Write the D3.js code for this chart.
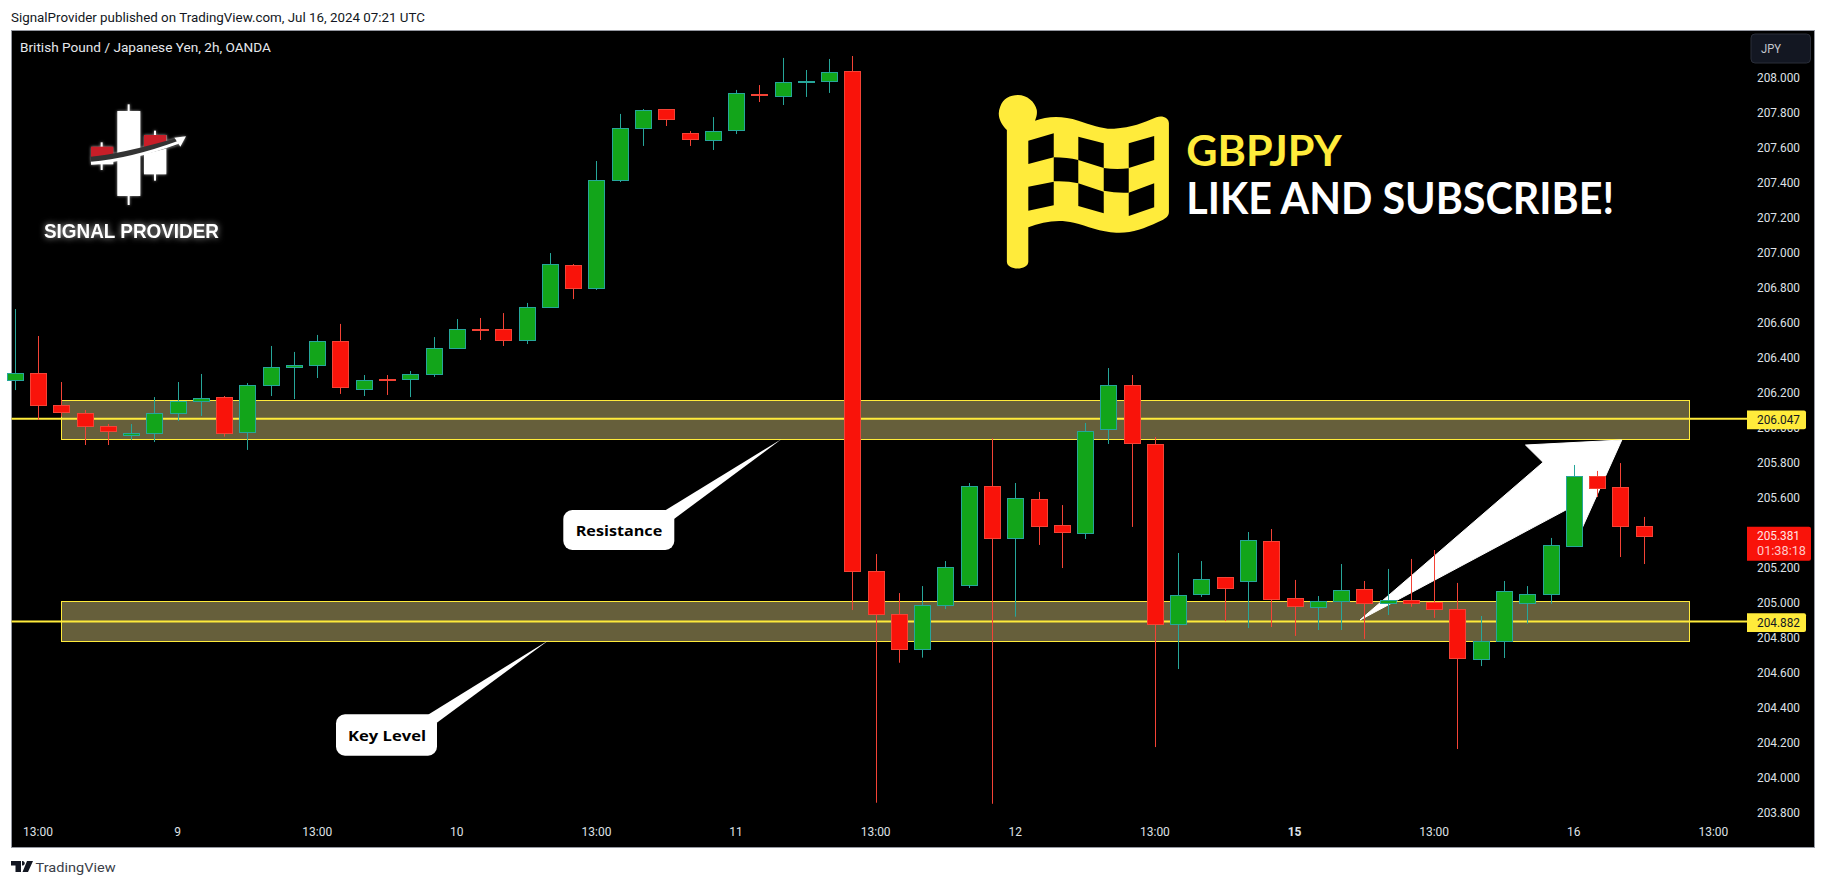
<!DOCTYPE html>
<html><head><meta charset="utf-8">
<script src="https://cdn.jsdelivr.net/npm/d3@7/dist/d3.min.js"></script>
<style>html,body{margin:0;padding:0;background:#fff}svg{display:block}</style>
</head><body><svg id="c" width="1826" height="886"></svg>
<script>
const opens=[206.269,206.311,206.128,206.082,206.008,205.954,205.966,206.08,206.149,206.174,205.972,206.24,206.343,206.354,206.494,206.217,206.273,206.274,206.303,206.452,206.564,206.562,206.497,206.686,206.928,206.794,207.411,207.709,207.819,207.682,207.64,207.697,207.905,207.891,207.975,207.977,208.037,205.179,204.934,204.731,204.983,205.097,205.665,205.366,205.591,205.442,205.394,205.989,206.242,205.905,204.874,205.046,205.145,205.12,205.351,205.025,204.974,205.008,205.077,204.997,205.014,205.002,204.96,204.674,204.779,204.997,205.046,205.32,205.722,205.659,205.437];
const highs=[206.678,206.524,206.261,206.101,206.021,206.021,206.175,206.261,206.307,206.181,206.255,206.467,206.433,206.53,206.593,206.301,206.301,206.324,206.518,206.621,206.627,206.655,206.713,206.998,206.935,207.524,207.793,207.821,207.821,207.695,207.775,207.93,207.958,208.113,208.044,208.107,208.124,205.278,205.055,205.095,205.238,205.684,205.939,205.684,205.633,205.558,206.027,206.341,206.301,205.947,205.284,205.238,205.147,205.404,205.421,205.13,205.038,205.221,205.124,205.193,205.25,205.301,205.113,204.924,205.124,205.095,205.37,205.787,205.753,205.798,205.49];
const lows=[206.215,206.044,206.063,205.901,205.901,205.93,205.918,206.038,206.067,205.949,205.873,206.181,206.164,206.284,206.193,206.181,206.187,206.175,206.29,206.452,206.501,206.467,206.478,206.686,206.735,206.787,207.404,207.61,207.724,207.61,207.587,207.678,207.861,207.844,207.89,207.913,204.958,203.857,204.657,204.686,204.964,205.084,203.851,204.92,205.33,205.198,205.364,205.907,205.433,204.175,204.621,205.033,204.895,204.855,204.861,204.81,204.844,204.844,204.793,204.93,204.977,204.913,204.164,204.638,204.684,204.88,204.994,205.32,205.604,205.261,205.221];
const closes=[206.311,206.126,206.086,206.006,205.977,205.968,206.082,206.151,206.168,205.966,206.242,206.345,206.356,206.494,206.229,206.271,206.269,206.305,206.454,206.562,206.56,206.497,206.688,206.93,206.794,207.414,207.711,207.814,207.76,207.646,207.694,207.911,207.897,207.974,207.981,208.031,205.177,204.931,204.731,204.985,205.202,205.665,205.366,205.597,205.434,205.4,205.979,206.242,205.909,204.874,205.042,205.134,205.08,205.357,205.017,204.977,205.008,205.071,204.997,205.014,204.997,204.962,204.68,204.779,205.065,205.048,205.328,205.722,205.651,205.434,205.381];
const priceTicks=[208,207.8,207.6,207.4,207.2,207,206.8,206.6,206.4,206.2,206,205.8,205.6,205.4,205.2,205,204.8,204.6,204.4,204.2,204,203.8];
const timeTickIdx=[1,7,13,19,25,31,37,43,49,55,61,67,73];
const timeTickLabels=["13:00","9","13:00","10","13:00","11","13:00","12","13:00","15","13:00","16","13:00"];
const zoneTops=[206.157,205.008];
const zoneBottoms=[205.934,204.779];
const levelDrawn=[206.051,204.892];
const levelLabels=["206.047","204.882"];
const lastPriceLabel="205.381";
const countdownLabel="01:38:18";

const svg=d3.select("#c");
const W=1826,H=886;
const x=d3.scaleLinear().domain([0,70]).range([14.7,1643.6]);
const y=d3.scaleLinear().domain([208,203.8]).range([77.7,812.7]);
const UI="Roboto, 'Open Sans', sans-serif";
const YEL="#ffeb3b", UP="#12a51a", UPB="#26a69a", DN="#f9130a", DNB="#f44336", TXT="#dfe1e6";

svg.append("rect").attr("width",W).attr("height",H).attr("fill","#fff");
function txt(p,s,a){const t=p.append("text").text(s).attr("font-family",a.f||UI).attr("font-size",a.s||12)
  .attr("fill",a.c||TXT).attr("x",a.x).attr("y",a.y).attr("dominant-baseline",a.b||"central").attr("text-anchor",a.a||"start");
  if(a.w)t.attr("font-weight",a.w); if(a.l)t.attr("textLength",a.l).attr("lengthAdjust","spacingAndGlyphs"); return t;}

// header / footer
txt(svg,"SignalProvider published on TradingView.com, Jul 16, 2024 07:21 UTC",{x:11,y:17,s:12.5,c:"#131722",l:414});
// plot frame
svg.append("rect").attr("x",11).attr("y",30).attr("width",1803).attr("height",817).attr("fill","#000").attr("stroke","#9598a1").attr("stroke-width",1).attr("shape-rendering","crispEdges");
const plot=svg.append("g");

// title
txt(plot,"British Pound / Japanese Yen, 2h, OANDA",{x:20,y:47,s:12.5,c:"#e6e8ec",l:251});

// price ticks
plot.append("g").selectAll("text").data(priceTicks).join("text")
  .attr("x",1757).attr("y",d=>y(d)).attr("dominant-baseline","central").attr("font-family",UI).attr("font-size",12).attr("fill",TXT)
  .attr("textLength",43).attr("lengthAdjust","spacingAndGlyphs").text(d=>d3.format(".3f")(d));
// time ticks
plot.append("g").selectAll("text").data(timeTickIdx).join("text")
  .attr("x",d=>x(d)).attr("y",832).attr("text-anchor","middle").attr("dominant-baseline","central").attr("font-family",UI).attr("font-size",12).attr("fill",TXT)
  .attr("font-weight",(d,i)=>timeTickLabels[i]==="15"?700:400).text((d,i)=>timeTickLabels[i]);

// zones
plot.append("g").selectAll("rect").data(zoneTops).join("rect")
  .attr("x",61.5).attr("width",1628).attr("y",d=>y(d)).attr("height",(d,i)=>y(zoneBottoms[i])-y(d))
  .attr("fill","#665f3b").attr("stroke",YEL).attr("stroke-width",1).attr("shape-rendering","crispEdges");
// level lines
plot.append("g").selectAll("line").data(levelDrawn).join("line")
  .attr("x1",11.5).attr("x2",1748).attr("y1",d=>y(d)).attr("y2",d=>y(d)).attr("stroke",YEL).attr("stroke-width",2);

// big arrow
plot.append("path").attr("fill","#fff").attr("stroke","#fff").attr("stroke-width",1).attr("stroke-linejoin","round")
  .attr("d","M1360,620 L1543,462.3 L1525.5,445 L1621.8,440 L1582.5,527.3 L1573.3,506 Z");

// callouts
function callout(rx,ry,rw,rh,tail,label,tl,tw){
  const g=plot.append("g");
  g.append("path").attr("fill","#fff").attr("d","M"+tail.join(" L")+" Z");
  g.append("rect").attr("x",rx).attr("y",ry).attr("width",rw).attr("height",rh).attr("rx",9).attr("fill","#fff");
  txt(g,label,{x:tl,y:ry+rh/2,f:"'Open Sans',sans-serif",s:15,w:700,c:"#000",l:tw});
}
callout(563.3,510,111,40,[[665,510.5],[781.7,439],[674,519]],"Resistance",575.7,86.5);
callout(336,714.3,101,41.4,[[428,714.8],[549,640],[436.5,723]],"Key Level",348,78);

// candles
const idx=d3.range(opens.length);
const isUp=i=>closes[i]>=opens[i];
const cg=plot.append("g");
cg.selectAll("line").data(idx).join("line")
  .attr("x1",i=>Math.round(x(i))+.5).attr("x2",i=>Math.round(x(i))+.5)
  .attr("y1",i=>y(highs[i])).attr("y2",i=>y(lows[i]))
  .attr("stroke",i=>isUp(i)?UPB:DNB).attr("stroke-width",1);
cg.selectAll("rect").data(idx).join("rect")
  .attr("x",i=>Math.round(x(i))-8+.5).attr("width",16)
  .attr("y",i=>y(Math.max(opens[i],closes[i])))
  .attr("height",i=>Math.max(1,Math.abs(y(opens[i])-y(closes[i]))))
  .attr("fill",i=>isUp(i)?UP:DN).attr("stroke",i=>isUp(i)?UPB:DNB).attr("stroke-width",1).attr("shape-rendering","crispEdges");

// level and last-price tags
function tag(cy,h,w,fill){
  return plot.append("path").attr("fill",fill).attr("d",`M1747,${cy-h/2} H${1747+w-2} Q${1747+w},${cy-h/2} ${1747+w},${cy-h/2+2} V${cy+h/2-2} Q${1747+w},${cy+h/2} ${1747+w-2},${cy+h/2} H1747 Z`);
}
levelLabels.forEach((s,i)=>{
  const cy=y(levelDrawn[i])+1;
  tag(cy,18.7,59,YEL);
  txt(plot,s,{x:1757,y:cy,s:12,c:"#131722",l:43});
});
const ly=y(+lastPriceLabel);
tag(ly+7.7,34,64,DN);
txt(plot,lastPriceLabel,{x:1757,y:ly,s:12,c:"#ffe5e5",l:43});
txt(plot,countdownLabel,{x:1757,y:ly+15.3,s:12,c:"#ffc9c9",l:49});

// currency button
plot.append("rect").attr("x",1751).attr("y",34).attr("width",59.5).attr("height",29).attr("rx",4).attr("fill","#131722").attr("stroke","#2a2e39");
txt(plot,"JPY",{x:1761,y:49,s:12,c:"#c4c7ce",l:20});

// logo
const logo=plot.append("g").attr("transform","translate(80,95) scale(0.3333)").style("filter","drop-shadow(0 0 5px rgba(255,255,255,.65))");
const wicks=[[146,28,330],[65,142,225],[225,107,257]];
logo.selectAll("line").data(wicks).join("line").attr("x1",d=>d[0]).attr("x2",d=>d[0]).attr("y1",d=>d[1]).attr("y2",d=>d[2]).attr("stroke","#fff").attr("stroke-width",6);
logo.append("rect").attr("x",112).attr("y",48).attr("width",69).attr("height",255).attr("fill","#fff");
logo.append("rect").attr("x",33).attr("y",155).attr("width",67).attr("height",31).attr("fill","#c81e28");
logo.append("rect").attr("x",33).attr("y",196).attr("width",67).attr("height",12).attr("fill","#fff");
logo.append("rect").attr("x",192).attr("y",120).attr("width",67).attr("height",118).attr("fill","#fff");
logo.append("path").attr("d","M192,120 H259 V143 Q225,152 192,163 Z").attr("fill","#c81e28");
logo.append("path").attr("d","M33,196 Q130,186 290,140").attr("fill","none").attr("stroke","#333").attr("stroke-width",22);
logo.append("path").attr("d","M33,205 Q150,195 295,142").attr("fill","none").attr("stroke","#fff").attr("stroke-width",9);
logo.append("path").attr("d","M318,124 L283,128 L292,140 L301,155 Z").attr("fill","#fff");
txt(plot,"SIGNAL PROVIDER",{x:44,y:230.5,f:"'Liberation Sans',sans-serif",s:21,w:700,c:"#fff",l:175}).style("filter","drop-shadow(0 0 3px rgba(255,255,255,.7))");

// flag
const flag=plot.append("g").attr("transform","translate(960,80) scale(0.4464,0.3333)");
flag.append("path").attr("fill",YEL).attr("d","M105,150 C90,130 82,105 90,80 C97,55 112,45 130,45 C150,45 168,65 172,90 C173,100 172,110 168,122 C195,108 230,106 265,122 C295,135 320,148 345,146 C385,144 410,128 440,112 C452,106 468,112 468,130 L468,395 C468,410 460,416 445,425 C410,447 385,460 350,458 C315,456 285,438 255,428 C220,417 185,425 153,442 L153,545 C153,572 105,572 105,545 Z");
const holes=[
"M153,182 L210,160 V232 L153,252 Z","M265,170 L322,190 V264 L265,240 Z","M378,190 L435,168 V240 L378,264 Z",
"M210,232 Q240,232 265,240 V310 Q240,302 210,304 Z","M322,264 Q350,270 378,265 V338 Q350,340 322,332 Z",
"M153,320 L210,305 V376 L153,392 Z","M265,310 L322,335 V400 L265,378 Z","M378,338 L435,310 V382 L378,408 Z"];
flag.selectAll("path.h").data(holes).join("path").attr("class","h").attr("d",d=>d).attr("fill","#000");
txt(plot,"GBPJPY",{x:1186.3,y:166,b:"alphabetic",f:"Lato, sans-serif",s:42,w:700,c:YEL,l:155.4});
txt(plot,"LIKE AND SUBSCRIBE!",{x:1186.3,y:214,b:"alphabetic",f:"Lato, sans-serif",s:43,w:700,c:"#fff",l:427.7});

// TradingView mark
const tv=svg.append("g").attr("transform","translate(11,861)");
tv.append("path").attr("fill","#131722").attr("d","M0,0 H10 V11 H4.5 V4.5 H0 Z M11,0 a2.3,2.3 0 1 1 0.01,4.5 Z M16,0 H22 L17,11 H11.5 Z");
txt(svg,"TradingView",{x:35.6,y:867.5,s:13,c:"#3a3e48",l:80});
</script></body></html>
